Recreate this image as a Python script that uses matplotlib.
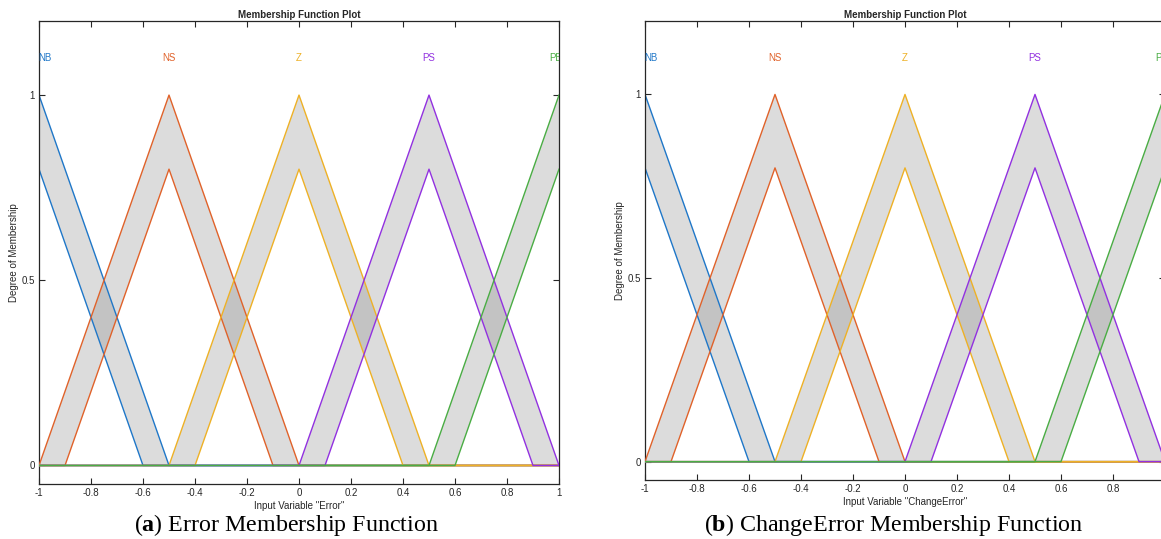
import numpy as np
import matplotlib
matplotlib.use("Agg")
import matplotlib.pyplot as plt
from matplotlib.ticker import FormatStrFormatter

plt.rcParams['font.family'] = ['Liberation Sans', 'DejaVu Sans']
plt.rcParams['mathtext.fontset'] = 'custom'
plt.rcParams['mathtext.rm'] = 'Liberation Serif'
plt.rcParams['mathtext.bf'] = 'Liberation Serif:bold'

# Interval type-2 triangular membership functions (left foot, peak, right foot)
mf_names = ["NB", "NS", "Z", "PS", "PB"]
upper_params = [(-1.5, -1.0, -0.5), (-1.0, -0.5, 0.0), (-0.5, 0.0, 0.5), (0.0, 0.5, 1.0), (0.5, 1.0, 1.5)]
lower_params = [(-1.4, -1.0, -0.6), (-0.9, -0.5, -0.1), (-0.4, 0.0, 0.4), (0.1, 0.5, 0.9), (0.6, 1.0, 1.4)]
upper_height = 1.0
lower_height = 0.8
label_x = [-0.978, -0.5, 0.0, 0.5, 0.987]
mf_colors = ["#1f77c8", "#e0622a", "#eeb126", "#9231e0", "#4aad44"]

x_ticks = [-1, -0.8, -0.6, -0.4, -0.2, 0, 0.2, 0.4, 0.6, 0.8, 1]
y_ticks = [0, 0.5, 1]

panels = [
    ('Input Variable "Error"', "a", "Error Membership Function"),
    ('Input Variable "ChangeError"', "b", "ChangeError Membership Function"),
]

W, H = 1161, 539
fig = plt.figure(figsize=(W / 100, H / 100), dpi=100)
fig.patch.set_facecolor("white")

# axes boxes in pixels: left, top, right, bottom
boxes = [(39, 21, 559, 484), (645, 21, 1165, 480)]
caption_cx = [286, 894]


def trimf(x, params, height):
    a, b, c = params
    left = (x - a) / (b - a)
    right = (c - x) / (c - b)
    return height * np.clip(np.minimum(left, right), 0, 1)


x = np.linspace(-1, 1, 4001)

for (xlabel, tag, caption), (l, t, r, b), cx in zip(panels, boxes, caption_cx):
    ax = fig.add_axes([l / W, 1 - b / H, (r - l) / W, (b - t) / H])
    for i, (name, up, lo, lx, col) in enumerate(zip(mf_names, upper_params, lower_params,
                                                    label_x, mf_colors)):
        yu = trimf(x, up, upper_height)
        yl = trimf(x, lo, lower_height)
        ax.fill_between(x, yl, yu, where=(yu > yl), facecolor=(0.5, 0.5, 0.5), alpha=0.27,
                        linewidth=0, zorder=1)
        ax.plot(x, yu, color=col, lw=1.0, zorder=2 + i)
        ax.plot(x, yl, color=col, lw=1.0, zorder=2 + i)
        ax.text(lx, 1.1, name, color=col, fontsize=7, ha="center", va="center", clip_on=True)

    ax.set_xlim(-1, 1)
    ax.set_ylim(-0.05, 1.2)
    ax.set_xticks(x_ticks)
    ax.set_yticks(y_ticks)
    ax.xaxis.set_major_formatter(FormatStrFormatter('%g'))
    ax.yaxis.set_major_formatter(FormatStrFormatter('%g'))
    ax.tick_params(direction="in", length=4, width=0.8, labelsize=7, colors="#262626",
                   top=True, right=True, pad=3)
    for s in ax.spines.values():
        s.set_linewidth(0.9)
        s.set_color("#262626")
    ax.set_title("Membership Function Plot", fontsize=7, fontweight="bold", pad=2, color="#262626")
    ax.set_xlabel(xlabel, fontsize=7, labelpad=2, color="#262626")
    ax.set_ylabel("Degree of Membership", fontsize=7, labelpad=2, color="#262626")

    fig.text(cx / W, 1 - 525 / H, r"($\mathbf{%s}$) %s" % (tag, caption), fontsize=17.3,
             family="Liberation Serif", ha="center", va="center", color="black")

fig.savefig("out.png", dpi=100, facecolor="white")
